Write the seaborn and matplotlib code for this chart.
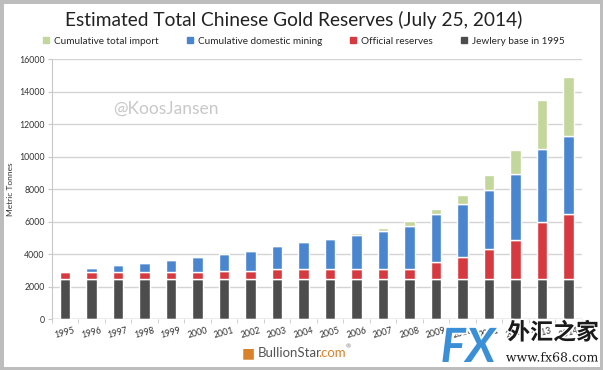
import numpy as np
import pandas as pd
import matplotlib
matplotlib.use("Agg")
import matplotlib.pyplot as plt
import matplotlib.patheffects as pe
from matplotlib.patches import Rectangle
from matplotlib.lines import Line2D
import seaborn as sns

years = [str(y) for y in range(1995, 2015)]

# tonnes per layer
jewelry = [2500] * 20
official = [400, 400, 400, 400, 400, 400, 500, 500, 600, 600,
            600, 600, 600, 600, 1054, 1330, 1800, 2350, 3480, 3990]
mining = [95, 240, 420, 590, 770, 945, 1020, 1230, 1430, 1650,
          1830, 2080, 2325, 2630, 2936, 3280, 3640, 4080, 4500, 4760]
imports = [0, 0, 0, 0, 0, 0, 0, 0, 0, 10,
           80, 140, 185, 310, 310, 510, 910, 1470, 2990, 3660]

labels = ["Cumulative total import", "Cumulative domestic mining",
          "Official reserves", "Jewlery base in 1995"]
colors = ["#c3d69b", "#4a86d0", "#d63a40", "#4d4d4d"]

df = pd.DataFrame({"year": years, "jewelry": jewelry, "official": official,
                   "mining": mining, "imports": imports})

sns.set_style("white")
plt.rcParams["font.family"] = ["Lato", "DejaVu Sans"]

fig = plt.figure(figsize=(6.03, 3.70), dpi=100)
ax = fig.add_axes([51.7 / 603, 1 - 319.3 / 370, 530 / 603, 260 / 370])

# stack the layers bottom-up
bottom = np.zeros(len(df))
for col, c in zip(["jewelry", "official", "mining", "imports"], colors[::-1]):
    sns.barplot(data=df, x="year", y=col, color=c, width=0.39,
                bottom=bottom, ax=ax, saturation=1, zorder=3)
    bottom = bottom + df[col].values

ax.set_ylim(0, 16000)
ax.set_xlim(-0.5, 19.5)
ax.set_yticks(range(0, 16001, 2000))
ax.yaxis.grid(True, color="#d4d4d4", linewidth=1, zorder=0)
ax.set_xlabel("")
ax.set_ylabel("Metric Tonnes", fontsize=6, color="#333333", labelpad=4)
for s in ["top", "right", "bottom"]:
    ax.spines[s].set_visible(False)
ax.spines["left"].set_color("#c8c8c8")
ax.tick_params(axis="y", labelsize=6.3, colors="#333333", length=3,
               color="#c8c8c8", left=True, pad=2)
ax.set_xticks(range(20))
ax.set_xticklabels(years, rotation=15, fontsize=6.3, color="#333333")
ax.tick_params(axis="x", length=0, pad=5)
# Excel-style ticks between categories
ax.set_xticks(np.arange(-0.5, 20, 1), minor=True)
ax.tick_params(axis="x", which="minor", length=3, color="#c8c8c8", bottom=True)
ax.axhline(0, color="#c8c8c8", linewidth=1, zorder=4)

fig.text(0.487, 0.947, "Estimated Total Chinese Gold Reserves (July 25, 2014)",
         ha="center", va="center", fontsize=13.8, color="#222222")

handles = [Line2D([], [], marker="s", linestyle="", markersize=4.5,
                  markerfacecolor=c, markeredgecolor=c) for c in colors]
fig.legend(handles, labels, loc="center", bbox_to_anchor=(0.502, 0.889),
           ncol=4, frameon=False, fontsize=7.2, handletextpad=0.3,
           columnspacing=2.6, handlelength=1)

fig.text(166 / 603, 1 - 109 / 370, "@KoosJansen", ha="center", va="center",
         fontsize=12.5, color="#c8c8c8")

fig.text(242 / 603, 1 - 353 / 370, "\u25a0", ha="left", va="center",
         fontsize=10, color="#d9822b")
t1 = fig.text(258 / 603, 1 - 353 / 370, "BullionStar", ha="left", va="center",
              fontsize=9.5, color="#555555")
fig.canvas.draw()
bb = t1.get_window_extent()
t2 = fig.text((bb.x1 - 4) / 603, 1 - 353 / 370, ".com", ha="left", va="center",
              fontsize=9.5, color="#d9822b")
fig.canvas.draw()
bb2 = t2.get_window_extent()
fig.text(bb2.x1 / 603, 1 - 347 / 370, "\u00ae", ha="left", va="center",
         fontsize=4.5, color="#777777")

# fx68 watermark over the lower right corner
fig.text(468 / 603, 1 - 348 / 370, "FX", ha="center", va="center",
         fontsize=34, fontweight="bold", fontstyle="italic", color="#3a8fd6",
         path_effects=[pe.withStroke(linewidth=2.5, foreground="white")])
fig.text(553 / 603, 1 - 333 / 370, "外汇之家", ha="center", va="center",
         fontsize=16.5, fontweight="bold", color="#1a1a1a",
         family=["Noto Sans CJK SC", "DejaVu Sans"],
         path_effects=[pe.withStroke(linewidth=2, foreground="white")])
fig.text(552 / 603, 1 - 358 / 370, "www.fx68.com", ha="center", va="center",
         fontsize=9, color="#1a1a1a", family=["DejaVu Serif"],
         path_effects=[pe.withStroke(linewidth=1.5, foreground="white")])

fig.patches.append(Rectangle((0, 0), 1, 1, transform=fig.transFigure,
                             fill=False, edgecolor="#bdbdbd", linewidth=5))

fig.savefig("out.png", dpi=100)
